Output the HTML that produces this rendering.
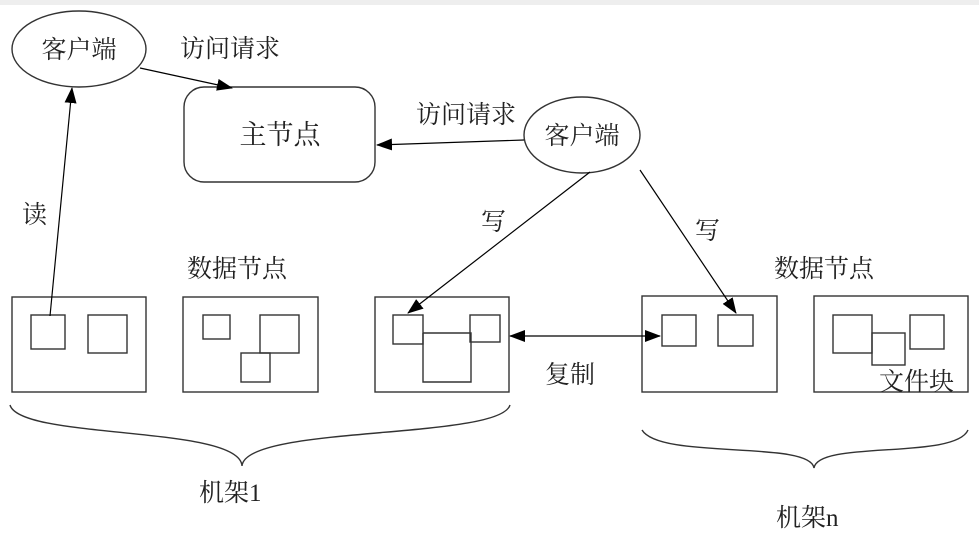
<!DOCTYPE html>
<html><head><meta charset="utf-8"><style>
html,body{margin:0;padding:0;background:#fff;}
svg text{font-family:"Liberation Serif","Noto Serif CJK SC","Noto Sans CJK SC",serif;fill:#222;}
</style></head><body>
<svg width="979" height="538" xmlns="http://www.w3.org/2000/svg">
<defs><marker id="a" markerWidth="16" markerHeight="12" refX="15" refY="6" orient="auto" markerUnits="userSpaceOnUse"><path d="M0,0 L16,6 L0,12 z" fill="#000"/></marker>
<marker id="b" markerWidth="16" markerHeight="12" refX="1" refY="6" orient="auto" markerUnits="userSpaceOnUse"><path d="M16,0 L0,6 L16,12 z" fill="#000"/></marker></defs>
<rect x="0" y="0" width="979" height="5" fill="#eee"/>
<g fill="none" stroke="#333" stroke-width="1.4">
<ellipse cx="79" cy="49" rx="67" ry="38"/>
<rect x="184" y="87" width="191" height="95" rx="20"/>
<ellipse cx="582" cy="135" rx="58" ry="38"/>
<rect x="12" y="297" width="134" height="95"/>
<rect x="31" y="315" width="34" height="34"/>
<rect x="88" y="315" width="39" height="38"/>
<rect x="183" y="297" width="135" height="95"/>
<rect x="203" y="315" width="27" height="24"/>
<rect x="260" y="315" width="39" height="38"/>
<rect x="241" y="353" width="29" height="29"/>
<rect x="375" y="297" width="134" height="95"/>
<rect x="393" y="315" width="30" height="29"/>
<rect x="470" y="315" width="30" height="27"/>
<polyline points="423,333 471,333 471,382 423,382 423,333"/>
<rect x="642" y="296" width="135" height="96"/>
<rect x="662" y="315" width="34" height="31"/>
<rect x="718" y="315" width="35" height="31"/>
<rect x="814" y="296" width="154" height="96"/>
<rect x="833" y="315" width="39" height="38"/>
<rect x="872" y="333" width="33" height="32"/>
<rect x="910" y="315" width="34" height="34"/>
<path d="M10,405 C20,440 240,425 242,466 C245,425 500,440 510,405"/>
<path d="M642,430 C660,460 810,440 814,468 C818,440 955,460 968,430"/>
</g>
<g stroke="#000" stroke-width="1.2" fill="none">
<line x1="140" y1="68" x2="232" y2="88" marker-end="url(#a)"/>
<line x1="50" y1="316" x2="72" y2="88" marker-end="url(#a)"/>
<line x1="524" y1="140" x2="377" y2="145" marker-end="url(#a)"/>
<line x1="590" y1="172" x2="408" y2="313" marker-end="url(#a)"/>
<line x1="640" y1="170" x2="736" y2="313" marker-end="url(#a)"/>
<line x1="510" y1="336" x2="660" y2="336" marker-start="url(#b)" marker-end="url(#a)"/>
</g>
<g font-size="25">
<text x="79" y="58" text-anchor="middle">客户端</text>
<text x="582" y="144" text-anchor="middle">客户端</text>
<text x="280" y="144" text-anchor="middle" font-size="27">主节点</text>
<text x="180" y="57">访问请求</text>
<text x="416" y="123">访问请求</text>
<text x="22" y="223">读</text>
<text x="481" y="230">写</text>
<text x="695" y="239">写</text>
<text x="187" y="277">数据节点</text>
<text x="774" y="277">数据节点</text>
<text x="545" y="383">复制</text>
<text x="879" y="390">文件块</text>
<text x="199" y="501">机架1</text>
<text x="776" y="526">机架n</text>
</g>
</svg>
</body></html>
